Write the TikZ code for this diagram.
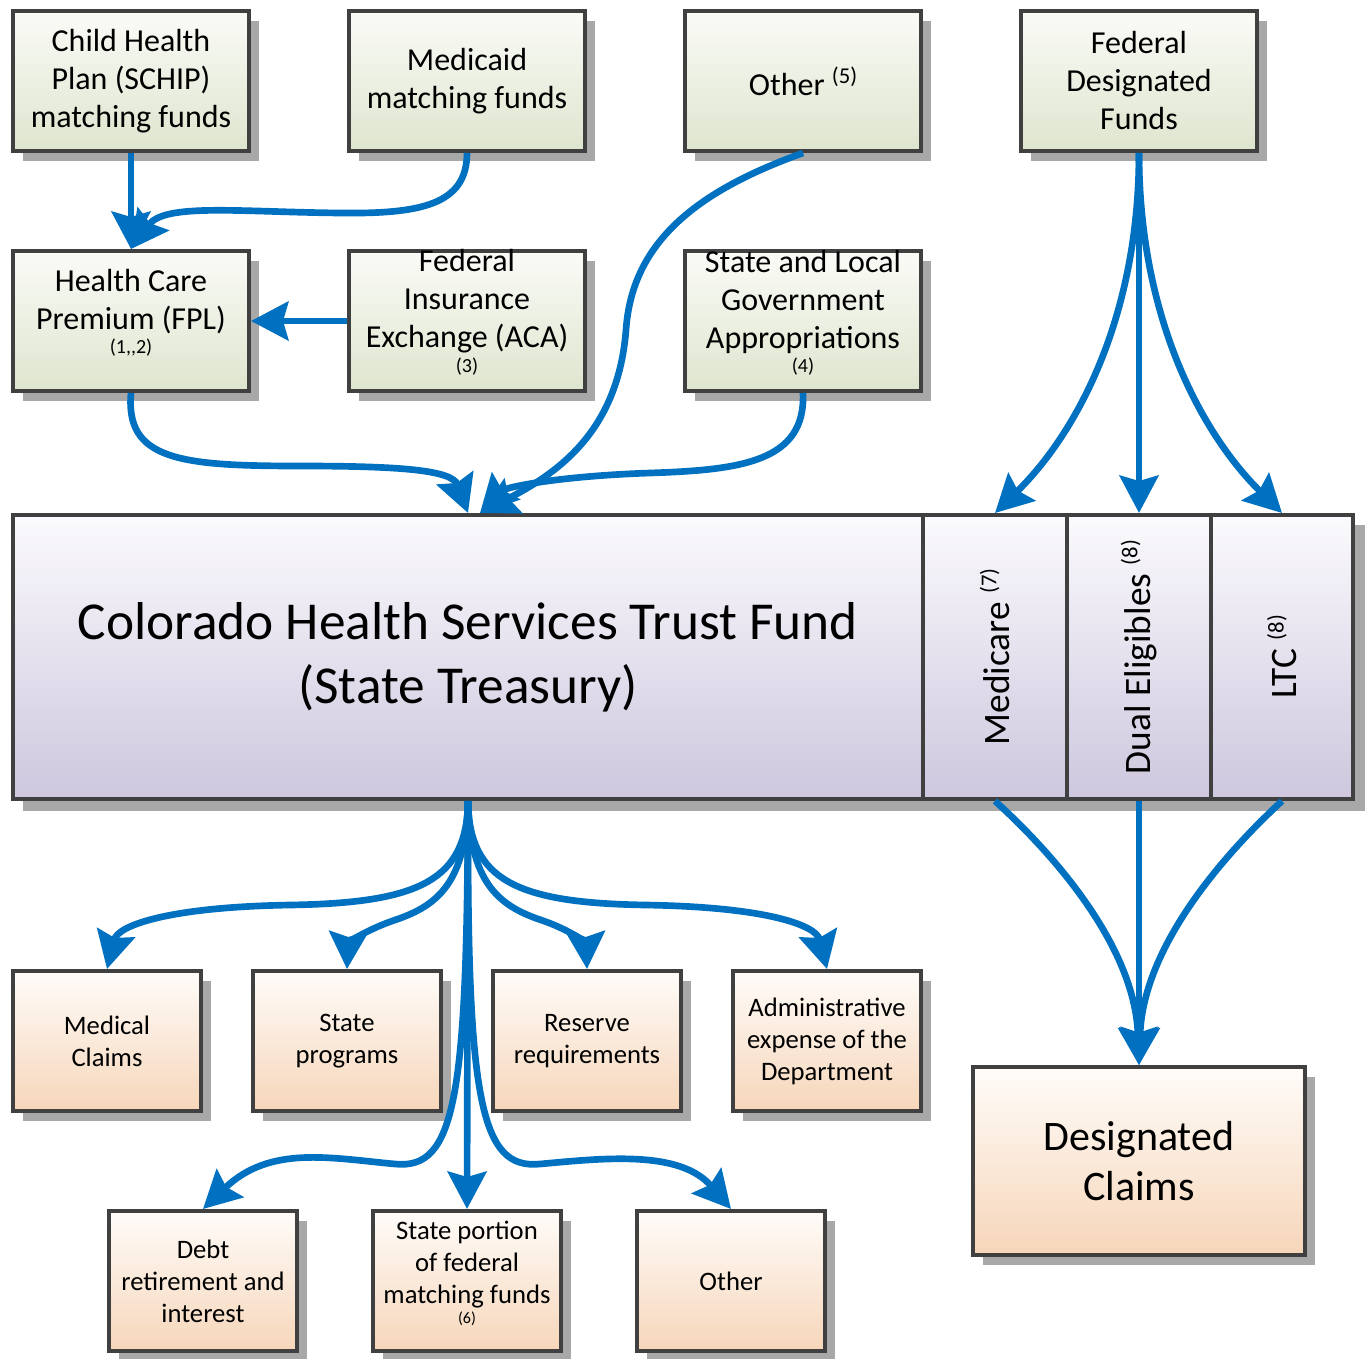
\documentclass[tikz,border=0pt]{standalone}
\usepackage{fontspec}
\setmainfont{Carlito}
\usetikzlibrary{arrows.meta,shadows}

\definecolor{boxline}{RGB}{64,64,64}
\definecolor{shadowgray}{RGB}{168,168,168}
\definecolor{greentop}{RGB}{250,251,247}
\definecolor{greenbot}{RGB}{222,229,206}
\definecolor{lilactop}{RGB}{251,250,253}
\definecolor{lilacbot}{RGB}{206,199,222}
\definecolor{peachtop}{RGB}{255,252,249}
\definecolor{peachbot}{RGB}{246,214,186}
\definecolor{flowblue}{RGB}{0,112,192}

\newcommand{\upnote}[2]{\raisebox{#1}{\fontsize{17}{17}\selectfont #2}}

\tikzset{
  box/.style={draw=boxline, line width=3pt, rectangle, inner sep=0pt,
    general shadow={fill=shadowgray, shadow xshift=7.5pt, shadow yshift=-7.5pt}},
  srcbox/.style={box, top color=greentop, bottom color=greenbot,
    minimum width=177pt, minimum height=105pt},
  usebox/.style={box, top color=peachtop, bottom color=peachbot,
    minimum width=141pt, minimum height=105pt},
  fundpart/.style={draw=boxline, line width=3pt, rectangle, inner sep=0pt,
    top color=lilactop, bottom color=lilacbot, minimum height=213pt},
  txtA/.style={align=center, font=\fontsize{24}{28.5}\selectfont},
  txtB/.style={align=center, font=\fontsize{20}{24}\selectfont},
  txtC/.style={align=center, font=\fontsize{31.5}{37.5}\selectfont},
  txtT/.style={align=center, font=\fontsize{40}{48}\selectfont},
  txtV/.style={rotate=90, font=\fontsize{28}{34}\selectfont},
  smallnote/.style={font=\fontsize{15}{15}\selectfont, inner sep=0pt},
  flow/.style={draw=flowblue, line width=5pt,
    -{Stealth[length=28pt,width=29pt,inset=4pt]}},
}

\begin{document}
\begin{tikzpicture}[x=0.75pt,y=-0.75pt]
\useasboundingbox (0,0) rectangle (1367,1359);

% ---- sources, first row ----
\node[srcbox, txtA] (schip) at (131,81) {Child Health\\Plan (SCHIP)\\matching funds};
\node[srcbox, txtA] (medicaid) at (467,81) {Medicaid\\matching funds};
\node[srcbox, txtA] (other5) at (803,81) {Other \upnote{9pt}{(5)}};
\node[srcbox, txtA] (feddes) at (1139,81) {Federal\\Designated\\Funds};

% ---- sources, second row ----
\node[srcbox] (hcp) at (131,321) {};
\node[txtA] (hcpt) at (131,301.5) {Health Care\\Premium (FPL)};
\node[smallnote] (hcpn) at (131,348) {(1{,}{,}2)};

\node[srcbox] (fie) at (467,321) {};
\node[txtA] (fiet) at (467,301.5) {Federal\\Insurance\\Exchange (ACA)};
\node[smallnote] (fien) at (467,367) {(3)};

\node[srcbox] (slg) at (803,321) {};
\node[txtA] (slgt) at (803,301.5) {State and Local\\Government\\Appropriations};
\node[smallnote] (slgn) at (803,367) {(4)};

% ---- trust fund with its designated columns ----
\fill[shadowgray] (23,525) rectangle (1365,811);
\node[fundpart, minimum width=682.5pt, txtT] (fund) at (468,657)
  {Colorado Health Services Trust Fund\\(State Treasury)};
\node[fundpart, minimum width=108pt] (medicare) at (995,657) {};
\node[fundpart, minimum width=108pt] (dual) at (1139,657) {};
\node[fundpart, minimum width=106.5pt] (ltc) at (1282,657) {};
\node[txtV] (medicaret) at (995,657) {Medicare \upnote{10pt}{(7)}};
\node[txtV] (dualt) at (1139,657) {Dual Eligibles \upnote{10pt}{(8)}};
\node[txtV] (ltct) at (1282,657) {LTC \upnote{10pt}{(8)}};

% ---- uses ----
\node[usebox, txtB] (medclaims) at (107,1041) {Medical\\Claims};
\node[usebox, txtB] (stateprog) at (347,1041) {State\\programs};
\node[usebox, txtB] (reserve) at (587,1041) {Reserve\\requirements};
\node[usebox, txtB] (admin) at (827,1041) {Administrative\\expense of the\\Department};
\node[usebox, txtB] (debt) at (203,1281) {Debt\\retirement and\\interest};
\node[usebox] (stport) at (467,1281) {};
\node[txtB] (stportt) at (467,1265) {State portion\\of federal\\matching funds};
\node[smallnote, font=\fontsize{12}{12}\selectfont] (stportn) at (467,1319) {(6)};
\node[usebox, txtB] (otheruse) at (731,1281) {Other};
\node[box, top color=peachtop, bottom color=peachbot, minimum width=249pt,
  minimum height=141pt, txtC] (desclaims) at (1139,1161) {Designated\\Claims};

% ---- flows into the trust fund ----
\draw[flow] (schip.south) -- (hcp.north);
\draw[flow] (medicaid.south) .. controls (467,205) and (420,214) .. (340,213)
  .. controls (240,212) and (165,203) .. (hcp.north);
\draw[flow] (fie.west) -- (hcp.east);
\draw[flow] (hcp.south) .. controls (125,460) and (180,466) .. (300,466)
  .. controls (400,466) and (452,470) .. (fund.north);
\draw[flow] (other5.south) .. controls (700,190) and (632,240) .. (626,330)
  .. controls (618,430) and (560,472) .. ([xshift=9pt]fund.north);
\draw[flow] (slg.south) .. controls (806,462) and (740,470) .. (650,473)
  .. controls (560,476) and (505,487) .. ([xshift=9pt]fund.north);

% ---- designated federal funds ----
\draw[flow] (feddes.south) .. controls (1139,320) and (1075,435) .. (medicare.north);
\draw[flow] (feddes.south) -- (dual.north);
\draw[flow] (feddes.south) .. controls (1139,320) and (1203,435) .. (ltc.north);
\draw[flow] (medicare.south) .. controls (1060,860) and (1135,950) .. (desclaims.north);
\draw[flow] (dual.south) -- (desclaims.north);
\draw[flow] (ltc.south) .. controls (1218,860) and (1143,950) .. (desclaims.north);

% ---- flows out of the trust fund ----
\draw[flow] (fund.south) .. controls (467,880) and (420,903) .. (290,905)
  .. controls (170,907) and (118,925) .. (medclaims.north);
\draw[flow] (fund.south) .. controls (466,880) and (440,905) .. (395,920)
  .. controls (360,932) and (348,945) .. (stateprog.north);
\draw[flow] (fund.south) .. controls (470,880) and (496,905) .. (541,920)
  .. controls (576,932) and (586,945) .. (reserve.north);
\draw[flow] (fund.south) .. controls (469,880) and (516,903) .. (646,905)
  .. controls (766,907) and (816,925) .. (admin.north);
\draw[flow] (fund.south) .. controls (467,1100) and (455,1170) .. (395,1164)
  .. controls (330,1158) and (270,1145) .. (debt.north);
\draw[flow] (fund.south) -- (stport.north);
\draw[flow] (fund.south) .. controls (467,1100) and (480,1170) .. (540,1164)
  .. controls (605,1158) and (680,1150) .. (otheruse.north);
\end{tikzpicture}
\end{document}
